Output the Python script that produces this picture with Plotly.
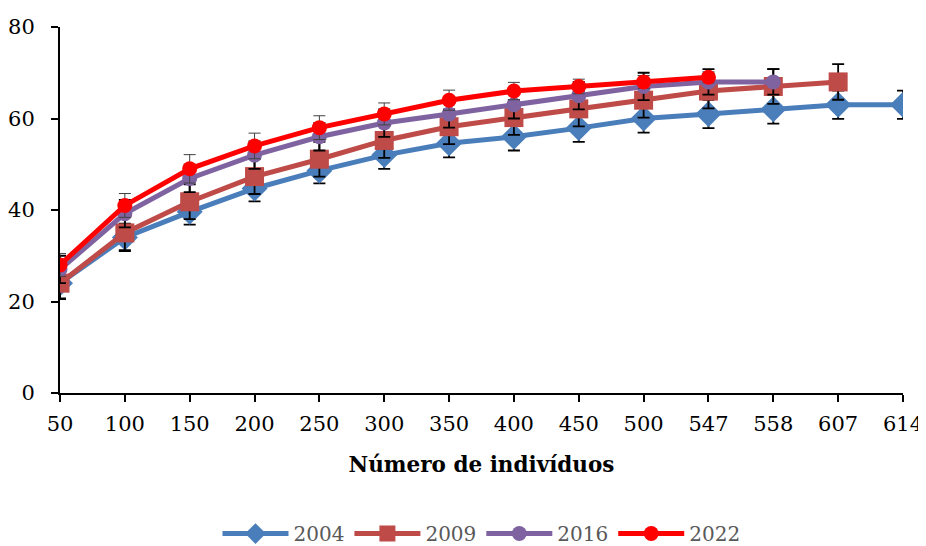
import plotly.graph_objects as go

categories = ["50", "100", "150", "200", "250", "300", "350", "400", "450", "500", "547", "558", "607", "614"]

s2004 = [24, 34, 39.6, 44.7, 48.6, 52, 54.6, 56, 57.9, 60, 61, 62, 63, 63]
e2004 = [3.3, 3.0, 2.8, 2.8, 2.8, 3.0, 3.1, 3.0, 3.0, 3.1, 3.1, 3.1, 3.1, 3.1]
s2009 = [24, 35, 41.8, 47.3, 51.1, 55.2, 58.2, 60.2, 62.1, 64, 66, 67, 68]
e2009 = [3.5, 3.8, 3.8, 3.8, 3.8, 3.8, 3.8, 3.8, 3.8, 3.8, 3.8, 3.8, 3.9]
s2016 = [27, 39.2, 46.9, 52, 56, 59, 61, 63, 65, 67, 68, 68]
e2016 = [3.0, 3.0, 3.0, 3.0, 3.0, 3.0, 3.0, 3.0, 3.0, 3.0, 2.8, 2.8]
s2022 = [28, 41, 49, 54, 58, 61, 64, 66, 67, 68, 69]
e2022 = [2.5, 2.6, 3.1, 2.8, 2.6, 2.4, 2.2, 1.9, 1.6, 1.4, 1.2]

series = [
    ("2004", s2004, e2004, "#4A7EBB", "diamond", 20, "black", 1.8),
    ("2009", s2009, e2009, "#BE4B48", "square", 19, "black", 1.8),
    ("2016", s2016, e2016, "#7F63A1", "circle", 15, "black", 1.8),
    ("2022", s2022, e2022, "#FF0000", "circle", 15, "#404040", 1.0),
]

fig = go.Figure()
for name, vals, errs, color, sym, size, ecol, eth in series:
    fig.add_trace(go.Scatter(
        x=categories[:len(vals)], y=vals, name=name, mode="lines+markers",
        line=dict(color=color, width=5),
        marker=dict(symbol=sym, size=size, color=color),
        error_y=dict(type="data", array=errs, visible=True, color=ecol,
                     thickness=eth, width=6),
    ))

font_family = "DejaVu Serif, serif"
fig.update_layout(
    width=918, height=538,
    margin=dict(l=52, r=23, t=19, b=153, autoexpand=False),
    paper_bgcolor="white", plot_bgcolor="white",
    font=dict(family=font_family, size=21, color="black"),
    showlegend=True,
    legend=dict(orientation="h", x=0.5, xanchor="center", yref="paper",
                y=-0.384, yanchor="middle", font=dict(size=20, color="#595959"),
                itemwidth=66, traceorder="normal", bgcolor="rgba(0,0,0,0)"),
    xaxis=dict(type="category", categoryorder="array", categoryarray=categories,
               range=[0, 13], showgrid=False, showline=True, linecolor="black",
               linewidth=2, ticks="outside", ticklen=7, tickcolor="black",
               tickwidth=1.5, tickfont=dict(size=21), zeroline=False,
               automargin=False, ticklabelstandoff=4,
               title=dict(text="<b>Número de indivíduos</b>", font=dict(size=21.5), standoff=22)),
    yaxis=dict(range=[0, 80], dtick=20, showgrid=False, showline=True,
               linecolor="black", linewidth=2, ticks="outside", ticklen=7,
               tickcolor="black", tickwidth=1.5, tickfont=dict(size=21),
               zeroline=False, automargin=False, ticklabelstandoff=12),
)

fig.write_html("out.html")
